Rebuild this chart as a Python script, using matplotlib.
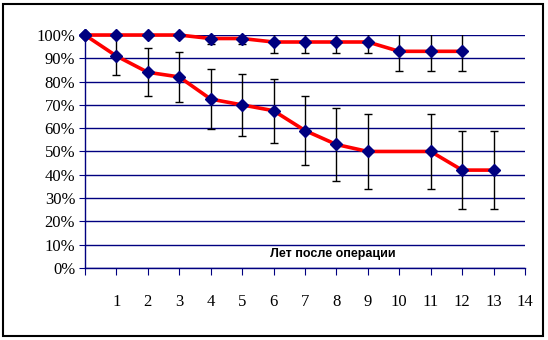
import numpy as np
import matplotlib.pyplot as plt
from matplotlib.patches import Rectangle

# верхняя кривая
years_top = [0, 1, 2, 3, 4, 5, 6, 7, 8, 9, 10, 11, 12]
surv_top = [100, 100, 100, 100, 98.5, 98.5, 97, 97, 97, 97, 93, 93, 93]
err_top = [0, 0, 0, 0, 2.3, 2.3, 4.6, 4.6, 4.6, 4.6, 8.5, 8.5, 8.5]

# нижняя кривая (нет точки для 10 лет)
years_low = [0, 1, 2, 3, 4, 5, 6, 7, 8, 9, 11, 12, 13]
surv_low = [100, 91, 84, 82, 72.5, 70, 67.5, 59, 53, 50, 50, 42, 42]
err_low = [0, 8, 10.3, 10.7, 13, 13.3, 13.8, 14.8, 15.5, 16, 16, 16.8, 16.8]

x_ticks = list(range(0, 15))
x_labels = [''] + [str(i) for i in range(1, 15)]
y_ticks = list(range(0, 101, 10))
y_labels = [f'{v}%' for v in y_ticks]

navy = '#000080'

fig = plt.figure(figsize=(5.48, 3.40), dpi=100)
ax = fig.add_axes([0.155, 0.212, 0.803, 0.685])

for xs, ys, es in [(years_top, surv_top, err_top), (years_low, surv_low, err_low)]:
    ax.errorbar(xs, ys, yerr=es, fmt='none', ecolor='black', elinewidth=1,
                capsize=3, capthick=1, zorder=3)
    ax.plot(xs, ys, color='#ff0000', lw=2.6, zorder=2, clip_on=False)
    ax.plot(xs, ys, linestyle='none', marker='D', markersize=6.3,
            markerfacecolor=navy, markeredgecolor=navy, zorder=4, clip_on=False)

ax.set_xlim(0, 14)
ax.set_ylim(0, 100)
ax.set_xticks(x_ticks)
ax.set_xticklabels(x_labels)
ax.set_yticks(y_ticks)
ax.set_yticklabels(y_labels)

ax.grid(True, axis='y', color=navy, lw=1)
ax.set_axisbelow(True)
for s in ['top', 'right']:
    ax.spines[s].set_visible(False)
for s in ['left', 'bottom']:
    ax.spines[s].set_color(navy)
    ax.spines[s].set_linewidth(1)

ax.tick_params(axis='x', direction='out', length=5, color=navy, pad=14,
               labelsize=12)
ax.tick_params(axis='y', direction='out', length=4, color=navy, pad=3,
               labelsize=12)
for lab in ax.get_xticklabels() + ax.get_yticklabels():
    lab.set_family('Liberation Serif')

ax.text(7.9, 3.2, 'Лет после операции', ha='center', va='bottom',
        fontsize=9, fontweight='bold', family='Liberation Sans')

fig.patches.append(Rectangle((0.006, 0.012), 0.985, 0.975, transform=fig.transFigure,
                             fill=False, edgecolor='black', lw=1.5))

fig.savefig('out.png', dpi=100)
